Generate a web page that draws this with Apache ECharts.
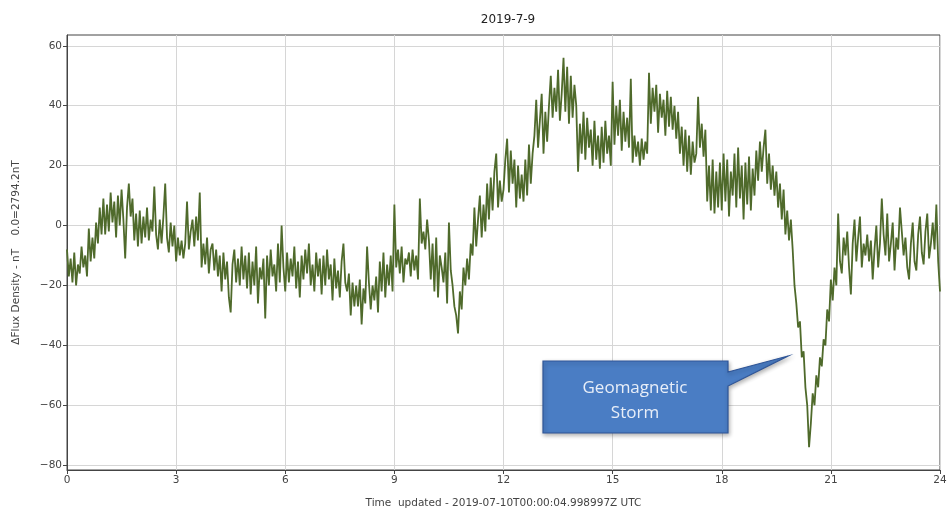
<!DOCTYPE html>
<html>
<head>
<meta charset="utf-8">
<script src="https://cdn.jsdelivr.net/npm/echarts@6/dist/echarts.min.js"></script>
<style>
html,body{margin:0;padding:0;background:#fff;}
#chart{width:949px;height:511px;}
</style>
</head>
<body>
<div id="chart"></div>
<script>
// Time step between samples (hours)
var STEP = 0.05;
// Flux values (nT), one sample every 0.05 h
var values00to06 = [
  -8, -17, -11, -19, -9, -20, -13, -16, -7, -14, -10, -17, -1, -12, -4, -11, 1, -6, 6, -3,
  9, -3, 7, -2, 11, 1, 8, -4, 10, 0, 12, 2, -11, 6, 14, 3, 9, -5, 4, -7,
  5, -6, 3, -4, 6, -5, 2, -2, 13, -3, -8, 2, -6, 3, 14, -4, -9, 1, -7, 0,
  -12, -4, -10, -5, -11, -6, 8, -8, -2, 2, -7, 3, -5, 11, -14, -6, -13, -4, -16, -8,
  -6, -15, -8, -17, -10, -22, -9, -18, -12, -24, -29, -13, -8, -19, -11, -20, -7, -18, -10, -21,
  -9, -23, -12, -20, -7, -26, -14, -18, -11, -31, -10, -20, -8, -17, -13, -22, -6, -19, 0, -14
];
var values06to12 = [
  -22, -9, -19, -11, -17, -7, -21, -12, -24, -10, -18, -8, -16, -6, -20, -13, -22, -9, -17, -11,
  -23, -10, -20, -8, -18, -13, -25, -11, -21, -15, -24, -12, -6, -19, -22, -16, -30, -19, -27, -20,
  -27, -18, -33, -21, -26, -7, -19, -28, -20, -25, -17, -29, -12, -22, -9, -24, -13, -20, -10, -22,
  7, -14, -8, -16, -7, -19, -11, -13, -9, -17, -8, -15, -10, -18, 9, -6, -2, -8, 2, -5,
  -18, -6, -22, -4, -24, -10, -14, -19, -9, -26, 1, -15, -20, -27, -30, -36, -22, -28, -14, -20,
  -11, -18, -6, -10, 6, -7, 2, 10, -4, 7, -2, 14, 2, 16, 5, 18, 24, 6, 15, 8
];
var values12to18 = [
  12, 22, 29, 11, 25, 14, 22, 6, 20, 9, 17, 8, 22, 10, 27, 14, 24, 30, 42, 26,
  35, 44, 24, 38, 28, 40, 50, 36, 46, 38, 52, 35, 44, 56, 38, 53, 34, 50, 36, 47,
  40, 18, 34, 24, 38, 22, 36, 26, 32, 20, 35, 22, 30, 19, 33, 21, 35, 24, 30, 20,
  48, 27, 40, 30, 42, 25, 38, 28, 36, 26, 49, 21, 30, 23, 28, 20, 29, 22, 28, 24,
  51, 34, 46, 38, 47, 31, 44, 36, 42, 30, 45, 33, 43, 32, 40, 29, 38, 24, 33, 20,
  32, 18, 30, 17, 28, 21, 24, 43, 26, 34, 23, 32, 8, 20, 5, 22, 4, 18, 6, 21
];
var values18to24 = [
  5, 24, 8, 22, 3, 18, 10, 24, 6, 26, 9, 20, 2, 21, 7, 23, 5, 19, 10, 25,
  15, 28, 18, 26, 32, 14, 24, 12, 20, 10, 18, 6, 14, 2, 12, -3, 5, -5, 2, -8,
  -20, -26, -34, -32, -44, -42, -54, -60, -74, -66, -56, -60, -50, -54, -44, -47, -38, -40, -28, -32,
  -18, -25, -14, -20, 4, -12, -16, -4, -10, -2, -14, -23, -6, 2, -12, -4, 3, -14, -6, -10,
  -3, -12, -5, -18, -8, 0, -14, -6, 9, -3, -10, 4, -12, -6, 1, -15, -4, -8, 6, -2,
  -10, -4, -14, -18, -6, 1, -12, -15, -3, 3, -9, -13, -2, 4, -11, -6, 1, -8, 7, -12,
  -22
];
var yTicks = [-80, -60, -40, -20, 0, 20, 40, 60];

var allValues = values00to06.concat(values06to12, values12to18, values18to24);
var seriesData = allValues.map(function (v, i) {
  return [Math.round(i * STEP * 1000) / 1000, v];
});

var chart = echarts.init(document.getElementById('chart'));
var font = 'DejaVu Sans';
chart.setOption({
  animation: false,
  backgroundColor: '#ffffff',
  title: {
    text: '2019-7-9',
    left: 503,
    top: 9,
    textAlign: 'center',
    textStyle: {fontFamily: font, fontSize: 12, fontWeight: 'normal', color: '#222'}
  },
  grid: {
    left: 67, right: 9, top: 35, bottom: 41,
    outerBoundsMode: 'none',
    containLabel: false,
    show: true, borderColor: '#444', borderWidth: 1, backgroundColor: 'transparent'
  },
  xAxis: {
    type: 'value',
    min: 0, max: 24, interval: 3,
    name: 'Time  updated - 2019-07-10T00:00:04.998997Z UTC',
    nameLocation: 'middle',
    nameGap: 28,
    nameTextStyle: {fontFamily: font, fontSize: 10.5, color: '#444'},
    axisLine: {show: true, onZero: false, lineStyle: {color: '#444'}},
    axisTick: {show: true, length: 4, lineStyle: {color: '#444'}},
    axisLabel: {fontFamily: font, fontSize: 10.5, color: '#444', margin: 5},
    splitLine: {show: true, lineStyle: {color: '#d6d6d6', width: 1}}
  },
  yAxis: {
    type: 'value',
    min: -81.6, max: 63.6,
    name: '\u0394Flux Density - nT    0.0=2794.2nT',
    nameLocation: 'middle',
    nameRotate: 90,
    nameGap: 45,
    nameTextStyle: {fontFamily: font, fontSize: 10.5, color: '#444'},
    axisLine: {show: true, onZero: false, lineStyle: {color: '#444'}},
    axisTick: {show: true, length: 4, lineStyle: {color: '#444'}, customValues: yTicks},
    axisLabel: {
      fontFamily: font, fontSize: 10.5, color: '#444', margin: 5,
      customValues: yTicks,
      formatter: function (v) { return String(v).replace('-', '\u2212'); }
    },
    splitLine: {show: true, lineStyle: {color: '#d6d6d6', width: 1}}
  },
  series: [{
    type: 'line',
    data: seriesData,
    showSymbol: false,
    symbol: 'none',
    lineStyle: {color: '#4f6a2b', width: 1.8},
    z: 3
  }],
  graphic: [
    {
      type: 'polygon',
      z: 100,
      shape: {points: [[543, 361], [728, 361], [728, 372], [788, 356], [728, 386], [728, 433], [543, 433]]},
      style: {
        fill: '#4a7dc4', stroke: '#2f5597', lineWidth: 1.2,
        shadowBlur: 4, shadowColor: 'rgba(0,0,0,0.3)', shadowOffsetX: 1, shadowOffsetY: 2
      }
    },
    {
      type: 'text',
      z: 101,
      x: 635,
      y: 376,
      style: {
        text: 'Geomagnetic\nStorm',
        align: 'center',
        verticalAlign: 'top',
        fill: '#e8eef8',
        font: '17px "Open Sans"',
        lineHeight: 25
      }
    }
  ]
});
</script>
</body>
</html>
